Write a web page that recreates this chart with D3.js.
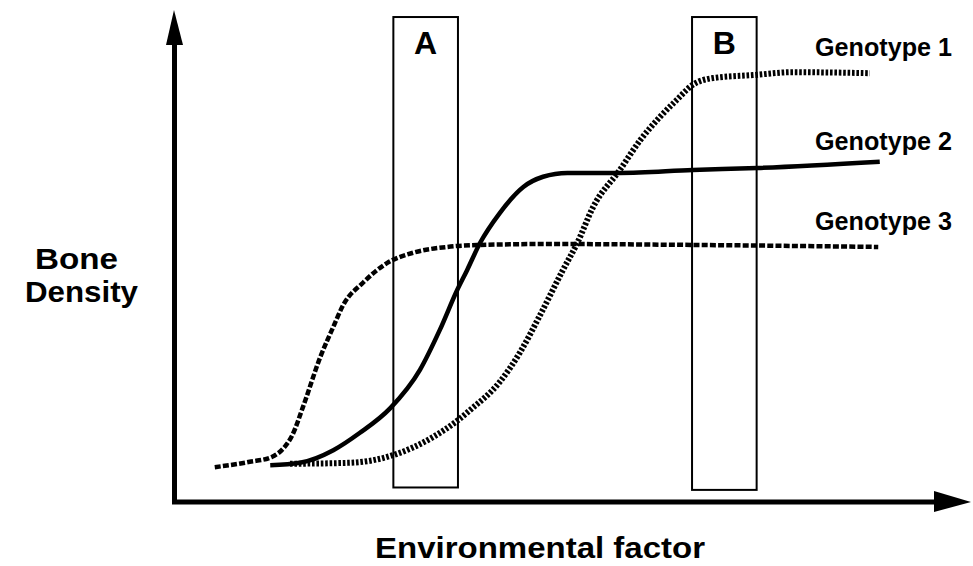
<!DOCTYPE html>
<html>
<head>
<meta charset="utf-8">
<script src="https://cdn.jsdelivr.net/npm/d3@7/dist/d3.min.js"></script>
<style>
  html, body { margin: 0; padding: 0; background: #fff; }
  svg { display: block; }
  text { font-family: "Liberation Sans", Arial, Helvetica, sans-serif; font-weight: bold; fill: #000; }
</style>
</head>
<body>
<svg id="chart" width="973" height="566"></svg>
<script>
// ---- Data (environmental factor 0-100, bone density 0-100) ----
const genotypeNames = ["Genotype 1", "Genotype 2", "Genotype 3"];

const g1Env     = [15.0, 22.9, 28.6, 33.8, 37.1, 38.7, 42.6, 45.3, 47.9, 50.9, 52.8, 54.9, 58.4, 61.1, 63.7, 65.9, 68.0, 70.7, 75.9, 81.2, 91.3];
const g1Density = [7.9, 8.1, 9.7, 13.4, 16.9, 19.0, 24.8, 31.0, 38.6, 47.9, 53.5, 61.0, 68.6, 74.8, 79.6, 83.1, 86.2, 87.6, 88.2, 88.8, 88.6];

const g2Env     = [12.4, 16.3, 20.7, 24.2, 28.2, 32.1, 34.7, 37.0, 38.3, 40.0, 42.6, 45.7, 48.3, 51.5, 58.4, 68.0, 76.5, 92.6];
const g2Density = [7.6, 8.1, 10.7, 14.3, 19.4, 27.3, 35.5, 43.8, 47.9, 53.5, 59.7, 65.1, 67.2, 68.0, 68.0, 68.6, 69.0, 70.3];

const g3Env     = [5.1, 9.7, 12.6, 14.3, 15.3, 16.7, 19.0, 20.7, 22.0, 24.6, 27.8, 31.2, 35.7, 39.6, 49.2, 69.0, 92.4];
const g3Density = [7.2, 8.3, 9.3, 11.4, 13.8, 19.6, 30.0, 36.2, 40.7, 45.3, 49.4, 51.5, 52.7, 53.1, 53.3, 53.1, 52.7];

const boxLabels = ["A", "B"];
const boxStart  = [28.6, 67.9];
const boxEnd    = [37.1, 76.4];
const boxBottom = [3.0, 2.5];
const boxTop    = [100.2, 100.2];

const xTitle = "Environmental factor";
const yTitle = ["Bone", "Density"];

// ---- Scales ----
const x = d3.scaleLinear().domain([0, 100]).range([176, 936]);
const y = d3.scaleLinear().domain([0, 100]).range([502, 18]);

const svg = d3.select("#chart");

// ---- Axes with arrowheads ----
svg.append("line")
  .attr("x1", x(0) - 1.5).attr("y1", y(0) + 2)
  .attr("x2", x(0) - 1.5).attr("y2", 40)
  .attr("stroke", "#000").attr("stroke-width", 5);
svg.append("path")
  .attr("d", `M${x(0) - 2},10 L${x(0) - 10},45 L${x(0) + 7},45 Z`)
  .attr("fill", "#000");

svg.append("line")
  .attr("x1", x(0) - 4).attr("y1", y(0))
  .attr("x2", 940).attr("y2", y(0))
  .attr("stroke", "#000").attr("stroke-width", 5);
svg.append("path")
  .attr("d", `M971,${y(0)} L934,${y(0) - 11} L934,${y(0) + 10} Z`)
  .attr("fill", "#000");

// ---- Boxes A and B ----
boxLabels.forEach((lab, i) => {
  svg.append("rect")
    .attr("x", x(boxStart[i]))
    .attr("y", y(boxTop[i]))
    .attr("width", x(boxEnd[i]) - x(boxStart[i]))
    .attr("height", y(boxBottom[i]) - y(boxTop[i]))
    .attr("fill", "none").attr("stroke", "#000").attr("stroke-width", 2);
  svg.append("text")
    .attr("x", (x(boxStart[i]) + x(boxEnd[i])) / 2)
    .attr("y", y(boxTop[i]) + 37)
    .attr("text-anchor", "middle")
    .attr("font-size", 32)
    .text(lab);
});

// ---- Curves ----
const line = d3.line()
  .x(d => x(d[0]))
  .y(d => y(d[1]))
  .curve(d3.curveMonotoneX);

const series = [
  { env: g1Env, dens: g1Density, width: 6,   dash: "2.6,1.8" },
  { env: g2Env, dens: g2Density, width: 4.5, dash: null },
  { env: g3Env, dens: g3Density, width: 4.5, dash: "6,2.2" }
];

series.forEach(s => {
  const pts = s.env.map((v, i) => [v, s.dens[i]]);
  const p = svg.append("path")
    .attr("d", line(pts))
    .attr("fill", "none")
    .attr("stroke", "#000")
    .attr("stroke-width", s.width);
  if (s.dash) p.attr("stroke-dasharray", s.dash);
});

// ---- Genotype labels ----
const labelBaselines = [56, 150, 230];
genotypeNames.forEach((name, i) => {
  svg.append("text")
    .attr("x", 815)
    .attr("y", labelBaselines[i])
    .attr("font-size", 25)
    .attr("textLength", 137)
    .attr("lengthAdjust", "spacingAndGlyphs")
    .text(name);
});

// ---- Axis titles ----
svg.append("text")
  .attr("x", 35).attr("y", 269)
  .attr("font-size", 30)
  .attr("textLength", 83)
  .attr("lengthAdjust", "spacingAndGlyphs")
  .text(yTitle[0]);
svg.append("text")
  .attr("x", 25).attr("y", 302)
  .attr("font-size", 30)
  .attr("textLength", 113)
  .attr("lengthAdjust", "spacingAndGlyphs")
  .text(yTitle[1]);

svg.append("text")
  .attr("x", 375).attr("y", 558)
  .attr("font-size", 30)
  .attr("textLength", 330)
  .attr("lengthAdjust", "spacingAndGlyphs")
  .text(xTitle);
</script>
</body>
</html>
